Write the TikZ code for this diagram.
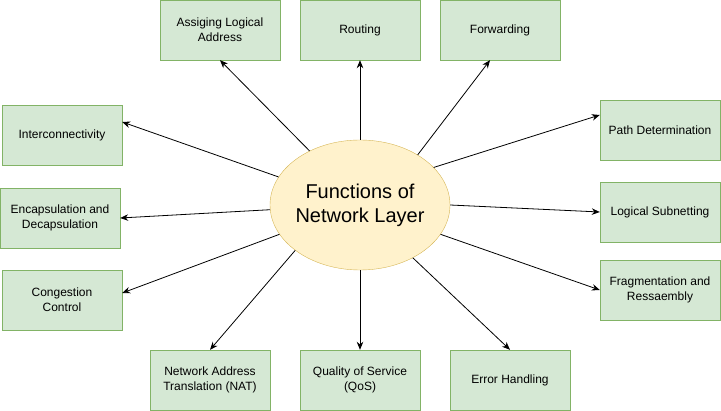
\documentclass[tikz,border=0pt]{standalone}
\usepackage{fontspec}
\setmainfont{Liberation Sans}
\usepackage{tikz}
\usetikzlibrary{arrows.meta,shapes.geometric,positioning}
\definecolor{funcfill}{HTML}{D5E8D4}
\definecolor{funcline}{HTML}{82B366}
\definecolor{corefill}{HTML}{FFF2CC}
\definecolor{coreline}{HTML}{D6B656}
\tikzset{
	func/.style={
		draw=funcline,
		fill=funcfill,
		minimum width=120pt,
		minimum height=60pt,
		align=center,
		font=\fontsize{12}{15}\selectfont
	},
	core/.style={
		ellipse,
		draw=coreline,
		fill=corefill,
		inner xsep=-10pt,
		inner ysep=0pt,
		minimum width=180pt,
		minimum height=130pt,
		align=center,
		font=\fontsize{20}{24}\selectfont
	},
	every edge/.style={
		draw,
		->,>={Stealth[length=8pt,width=6.5pt]},
		line width=0.8pt
	}
}

\begin{document}
\begin{tikzpicture}[x=1pt,y=1pt]
		\useasboundingbox (0,0) rectangle (721,-411);
		% centre
		\node[core] (fn) at (360,-205) {Functions of\\Network Layer};
		% top row
		\node[func] (addr) at (220,-30) {Assiging Logical\\Address};
		\node[func] (routing) at (360,-30) {Routing};
		\node[func] (fwd) at (500,-30) {Forwarding};
		% left column
		\node[func] (inter) at (62,-135) {Interconnectivity};
		\node[func] (encap) at (60,-218) {Encapsulation and\\Decapsulation};
		\node[func] (cong) at (62,-300) {Congestion\\Control};
		% right column
		\node[func] (path) at (660,-130) {Path Determination};
		\node[func] (subnet) at (660,-212) {Logical Subnetting};
		\node[func] (frag) at (660,-290) {Fragmentation and\\Ressaembly};
		% bottom row
		\node[func] (nat) at (210,-380) {Network Address\\Translation (NAT)};
		\node[func] (qos) at (360,-380) {Quality of Service\\(QoS)};
		\node[func] (err) at (510,-380) {Error Handling};
		\draw (fn.133) edge (addr.south)
		(fn.90) edge (routing.south)
		(fn.41) edge ([xshift=-10pt]fwd.south)
		(fn.161) edge ([yshift=13pt]inter.east)
		(fn.183) edge (encap.east)
		(fn.200) edge ([yshift=7pt]cong.east)
		(fn.27) edge ([yshift=15pt]path.west)
		(fn.0) edge (subnet.west)
		(fn.340) edge (frag.west)
		(fn.215) edge (nat.north)
		(fn.270) edge (qos.north)
		(fn.315) edge (err.north);
	\end{tikzpicture}
\end{document}
